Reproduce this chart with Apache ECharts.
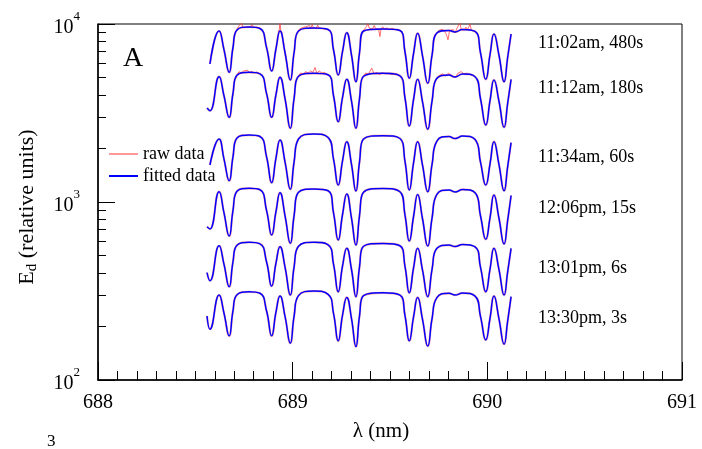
<!DOCTYPE html>
<html><head><meta charset="utf-8">
<script src="https://cdn.jsdelivr.net/npm/echarts@6/dist/echarts.min.js"></script>
<style>html,body{margin:0;padding:0;background:#fff}#c{width:702px;height:449px}</style>
</head><body><div id="c"></div>
<script>
// ---------- data ----------
const wavelengths = [688.560, 688.575, 688.622, 688.647, 688.674, 688.693, 688.714, 688.776, 688.832, 688.866,
  688.892, 688.914, 688.935, 688.961, 688.988, 689.007, 689.030, 689.110, 689.182, 689.210,
  689.234, 689.256, 689.278, 689.302, 689.325, 689.343, 689.364, 689.464, 689.551, 689.577,
  689.599, 689.621, 689.642, 689.667, 689.694, 689.716, 689.741, 689.803, 689.834, 689.873,
  689.937, 689.965, 689.992, 690.014, 690.034, 690.060, 690.086, 690.104, 690.122];

const fit_1102 = [null, 5960, 9135, 7178, 5355, 7331, 9254, 9620, 9434, 7368, 5445, 7237, 9135, 6872, 4847, 6872, 9135, 9495, 9314, 7144, 5170, 6988, 8936, 6714, 4741, 6845, 9135, 9374, 9195, 6961, 4955, 6828, 8867, 6627, 4645, 6688, 8900, 9195, 9018, 9314, 9076, 6872, 4890, 6748, 8787, 6653, 4741, 6442, 8787];
const fit_1112 = [3374, 3258, 5057, 3959, 2990, 4043, 5150, 5355, 5250, 4063, 2990, 3991, 5019, 3790, 2594, 3790, 5084, 5284, 5183, 3940, 2826, 3854, 4890, 3703, 2594, 3775, 5084, 5284, 5117, 3839, 2673, 3766, 4890, 3655, 2561, 3688, 4953, 5170, 5037, 5238, 5051, 3790, 2708, 3722, 4847, 3669, 2628, 3553, 4890];
const fit_1134 = [null, 1614, 2258, 1746, 1317, 1783, 2288, 2378, 2333, 1792, 1283, 1760, 2230, 1671, 1178, 1671, 2259, 2410, 2303, 1737, 1246, 1699, 2182, 1633, 1153, 1665, 2259, 2357, 2274, 1693, 1168, 1661, 2182, 1612, 1143, 1627, 2201, 2333, 2273, 2348, 2244, 1671, 1246, 1641, 2182, 1618, 1157, 1567, 2154];
const fit_1206 = [726, 705, 1143, 871, 644, 890, 1149, 1194, 1172, 894, 653, 879, 1128, 834, 586, 834, 1135, 1183, 1157, 867, 612, 848, 1109, 815, 573, 831, 1135, 1191, 1142, 845, 604, 829, 1102, 805, 566, 812, 1105, 1168, 1138, 1175, 1127, 834, 617, 819, 1095, 808, 581, 782, 1088];
const fit_1301 = [401, 361, 568, 448, 334, 458, 571, 594, 582, 460, 337, 452, 561, 429, 300, 429, 564, 594, 575, 446, 313, 436, 549, 419, 294, 428, 564, 585, 568, 435, 309, 426, 549, 414, 294, 418, 549, 573, 562, 577, 560, 429, 313, 421, 549, 416, 300, 402, 549];
const fit_1330 = [229, 193, 300, 238, 177, 243, 301, 313, 307, 244, 177, 240, 296, 227, 161, 227, 298, 316, 303, 236, 166, 231, 291, 222, 154, 227, 298, 309, 300, 230, 166, 226, 291, 219, 155, 221, 290, 307, 300, 308, 296, 227, 168, 223, 296, 220, 159, 213, 294];

// noisy stretches of the raw spectra (visible on the two longest exposures)
const rawNoise_1102 = [
  [[688.714,9380],[688.722,9700],[688.730,9520],[688.737,10150],[688.744,9560],[688.752,9750],[688.760,9600],[688.768,9820],[688.776,9580],[688.784,9700],[688.792,9900],[688.800,9550],[688.808,9760],[688.816,9620],[688.824,9450],[688.832,9500]],
  [[688.925,9050],[688.931,9300],[688.935,10200],[688.939,9200],[688.945,8950]],
  [[689.030,9250],[689.040,9400],[689.049,9550],[689.058,9450],[689.067,9650],[689.077,9500],[689.086,9800],[689.093,9450],[689.100,9950],[689.107,9500],[689.114,9700],[689.121,9400],[689.128,9850],[689.135,9550],[689.145,9600],[689.155,9400],[689.165,9500],[689.174,9350],[689.182,9300]],
  [[689.364,9200],[689.372,9450],[689.380,9700],[689.386,10100],[689.393,9500],[689.401,9650],[689.410,9350],[689.418,9800],[689.426,9450],[689.434,9600],[689.442,9300],[689.448,8500],[689.454,9400],[689.462,9650],[689.472,9400],[689.484,9500],[689.498,9350],[689.512,9450],[689.528,9300],[689.540,9350],[689.551,9200]],
  [[689.741,8950],[689.750,9200],[689.760,9050],[689.770,9350],[689.780,9100],[689.790,8700],[689.798,8150],[689.806,9200],[689.815,9000],[689.825,9300],[689.834,8900],[689.843,9400],[689.851,9200],[689.859,10200],[689.866,9300],[689.874,9500],[689.882,9250],[689.890,9600],[689.898,9300],[689.906,9700],[689.911,10000],[689.918,9200],[689.927,9300],[689.937,9050]]
];
const rawNoise_1112 = [
  [[688.714,5200],[688.725,5400],[688.736,5300],[688.748,5450],[688.758,5350],[688.768,5500],[688.778,5320],[688.790,5420],[688.802,5300],[688.815,5380],[688.824,5250],[688.832,5250]],
  [[689.030,5100],[689.040,5300],[689.055,5250],[689.068,5400],[689.080,5300],[689.092,5450],[689.104,5350],[689.115,5700],[689.124,5300],[689.136,5450],[689.150,5300],[689.165,5350],[689.174,5200],[689.182,5150]],
  [[689.364,5100],[689.375,5300],[689.390,5250],[689.406,5650],[689.418,5250],[689.432,5350],[689.446,5200],[689.460,5320],[689.476,5250],[689.492,5300],[689.510,5200],[689.528,5250],[689.540,5180],[689.551,5150]],
  [[689.741,5000],[689.755,5150],[689.770,5250],[689.785,5100],[689.800,5300],[689.815,5150],[689.834,5000],[689.850,5300],[689.865,5400],[689.880,5250],[689.895,5300],[689.910,5200],[689.925,5150],[689.937,5050]]
];

const curveLabels = ['11:02am, 480s', '11:12am, 180s', '11:34am, 60s', '12:06pm, 15s', '13:01pm, 6s', '13:30pm, 3s'];
const xTicks = [688, 689, 690, 691];
const yMajorTicks = [100, 1000, 10000];
const yMinorTicks = [200, 300, 400, 500, 600, 700, 800, 900, 2000, 3000, 4000, 5000, 6000, 7000, 8000, 9000];
const legendNames = ['raw data', 'fitted data'];

// ---------- chart ----------
const FONT = '"Liberation Serif", "Times New Roman", serif';
const fits = [fit_1102, fit_1112, fit_1134, fit_1206, fit_1301, fit_1330];
const noises = [rawNoise_1102, rawNoise_1112];

function pairs(arr) {
  const out = [];
  arr.forEach((v, i) => { if (v !== null) out.push([wavelengths[i], v]); });
  return out;
}

const series = [];
fits.forEach((f, k) => {
  series.push({
    name: legendNames[0], type: 'line', data: pairs(f), smooth: 0.5, symbol: 'none',
    lineStyle: { color: '#ff5050', width: 2.2, opacity: 0.45 }, itemStyle: { color: '#ff9999' },
    z: 1, silent: true, animation: false
  });
  (noises[k] || []).forEach(seg => {
    series.push({
      name: legendNames[0], type: 'line', data: seg, smooth: false, symbol: 'none',
      lineStyle: { color: '#ff3030', width: 1, opacity: 0.7 }, itemStyle: { color: '#ff9999' },
      z: 2, silent: true, animation: false
    });
  });
});
fits.forEach(f => {
  series.push({
    name: legendNames[1], type: 'line', data: pairs(f), smooth: 0.5, symbol: 'none',
    lineStyle: { color: '#0000ff', width: 1.5 }, itemStyle: { color: '#0000ff' },
    z: 3, silent: true, animation: false
  });
});

const labelY = [43, 88, 157, 208, 268, 318];
const graphic = curveLabels.map((t, i) => ({
  type: 'text', x: 538, y: labelY[i],
  style: { text: t, font: '18px ' + FONT, fill: '#000', textAlign: 'left', textVerticalAlign: 'middle' }
}));
graphic.push({ type: 'text', x: 123, y: 59,
  style: { text: 'A', font: '28px ' + FONT, fill: '#000', textAlign: 'left', textVerticalAlign: 'middle' } });
graphic.push({ type: 'text', x: 381, y: 431,
  style: { text: 'λ (nm)', font: '21px ' + FONT, fill: '#000', textAlign: 'center', textVerticalAlign: 'middle' } });
graphic.push({ type: 'text', x: 27, y: 207, rotation: Math.PI / 2,
  style: { text: '{e|E}{d|d}{n| (relative units)}', fill: '#000', textAlign: 'center', textVerticalAlign: 'middle',
    rich: {
      e: { fontSize: 22, fontFamily: FONT, verticalAlign: 'bottom' },
      d: { fontSize: 15, fontFamily: FONT, verticalAlign: 'bottom', padding: [0, 0, -2, 0] },
      n: { fontSize: 22, fontFamily: FONT, verticalAlign: 'bottom' }
    } } });
graphic.push({ type: 'text', x: 47, y: 442,
  style: { text: '3', font: '17px ' + FONT, fill: '#000', textAlign: 'left', textVerticalAlign: 'middle' } });

const chart = echarts.init(document.getElementById('c'), null, { renderer: 'canvas' });
chart.setOption({
  animation: false,
  backgroundColor: '#fff',
  grid: { left: 98, right: 20, top: 24, bottom: 69, show: true, borderColor: '#000', borderWidth: 1,
    containLabel: false, outerBoundsMode: 'none' },
  legend: {
    data: [{ name: legendNames[0], itemStyle: { color: '#ff9999' } }, { name: legendNames[1], itemStyle: { color: '#0000ff' } }],
    orient: 'vertical', left: 109, top: 145, padding: 0, icon: 'rect', itemWidth: 29, itemHeight: 2, itemGap: 4,
    selectedMode: false, textStyle: { fontSize: 18, fontFamily: FONT, color: '#000' }
  },
  xAxis: {
    type: 'value', min: xTicks[0], max: xTicks[xTicks.length - 1], interval: 1,
    axisLine: { lineStyle: { color: '#000', width: 1.5 } },
    axisTick: { inside: true, length: 18, lineStyle: { color: '#000', width: 1 } },
    minorTick: { show: true, splitNumber: 10, length: 9, lineStyle: { color: '#000', width: 1 } },
    splitLine: { show: false }, minorSplitLine: { show: false },
    axisLabel: { fontSize: 20, fontFamily: FONT, color: '#000', margin: 13 }
  },
  yAxis: [{
    type: 'log', logBase: 10, min: yMajorTicks[0], max: yMajorTicks[yMajorTicks.length - 1], position: 'left',
    axisLine: { lineStyle: { color: '#000', width: 1.5 } },
    axisTick: { inside: true, length: 17, customValues: yMajorTicks, lineStyle: { color: '#000', width: 1 } },
    splitLine: { show: false },
    axisLabel: {
      customValues: yMajorTicks, margin: 18, color: '#000',
      formatter: v => '{b|10}{s|' + Math.round(Math.log10(v)) + '}',
      rich: {
        b: { fontSize: 20, fontFamily: FONT, color: '#000', verticalAlign: 'bottom' },
        s: { fontSize: 13, fontFamily: FONT, color: '#000', verticalAlign: 'bottom', padding: [0, 0, 14, 0] }
      }
    }
  }, {
    type: 'log', logBase: 10, min: yMajorTicks[0], max: yMajorTicks[yMajorTicks.length - 1], position: 'left', offset: 0,
    axisLine: { show: false },
    axisTick: { inside: true, length: 8, customValues: yMinorTicks, lineStyle: { color: '#000', width: 1 } },
    axisLabel: { show: false }, splitLine: { show: false }
  }],
  graphic: graphic,
  series: series
});
</script></body></html>
